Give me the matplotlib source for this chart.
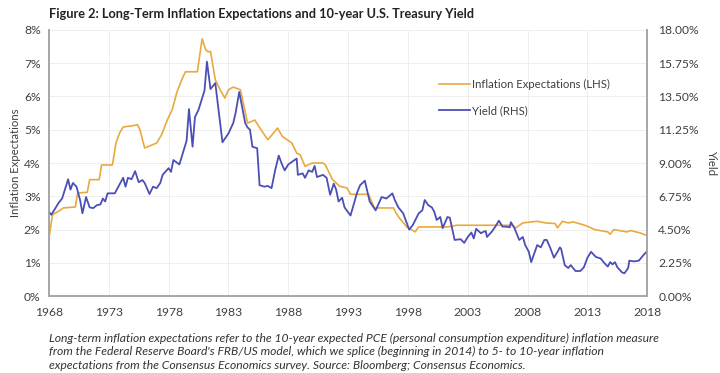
import matplotlib
matplotlib.use("Agg")
import matplotlib.pyplot as plt
import numpy as np

plt.rcParams['font.family'] = ['Lato', 'DejaVu Sans']

# Inflation expectations (LHS, %)
infl_years = [1968.0, 1968.3, 1968.8, 1969.2, 1970.2, 1970.4, 1971.2, 1971.4, 1972.2, 1972.4,
              1973.3, 1973.6, 1973.9, 1974.2, 1975.0, 1975.4, 1975.6, 1976.0, 1976.6, 1977.0,
              1977.4, 1977.9, 1978.3, 1978.7, 1979.1, 1979.4, 1980.4, 1980.8, 1981.1, 1981.3,
              1981.5, 1981.9, 1982.3, 1982.7, 1983.0, 1983.4, 1984.0, 1984.6, 1985.2, 1985.9,
              1986.3, 1987.1, 1987.5, 1987.9, 1988.3, 1988.7, 1989.0, 1989.4, 1990.0, 1990.9,
              1991.1, 1991.7, 1992.3, 1992.9, 1993.2, 1994.7, 1995.2, 1996.8, 1997.0, 1997.3,
              1997.9, 1998.6, 1998.9, 2001.3, 2002.1, 2006.7, 2007.0, 2007.6, 2008.8, 2009.5,
              2010.3, 2010.5, 2010.9, 2011.4, 2011.8, 2012.6, 2013.0, 2013.6, 2014.7, 2014.9,
              2015.2, 2016.3, 2016.6, 2017.4, 2018.0]
infl_vals = [1.75, 2.45, 2.55, 2.65, 2.68, 3.1, 3.12, 3.5, 3.5, 3.94,
             3.94, 4.6, 4.9, 5.08, 5.12, 5.15, 5.0, 4.45, 4.54, 4.6,
             4.84, 5.3, 5.6, 6.14, 6.5, 6.74, 6.74, 7.73, 7.4, 7.34,
             7.35, 6.5, 6.2, 5.95, 6.2, 6.28, 6.2, 5.2, 5.29, 4.9,
             4.7, 5.05, 4.8, 4.7, 4.6, 4.3, 4.24, 3.9, 4.0, 4.0,
             3.94, 3.5, 3.3, 3.25, 3.06, 3.06, 2.65, 2.65, 2.5, 2.34,
             2.08, 1.93, 2.08, 2.08, 2.13, 2.13, 2.05, 2.2, 2.25, 2.2,
             2.18, 2.05, 2.25, 2.2, 2.23, 2.15, 2.1, 2.0, 1.93, 1.86,
             2.0, 1.93, 1.97, 1.9, 1.82]

# 10-year Treasury yield (RHS, %)
yield_years = [1968.0, 1968.2, 1968.8, 1969.1, 1969.6, 1969.8, 1970.0, 1970.3, 1970.6, 1970.8,
               1971.1, 1971.4, 1971.7, 1972.0, 1972.3, 1972.5, 1972.7, 1972.9, 1973.5, 1973.8,
               1974.2, 1974.4, 1974.6, 1974.9, 1975.2, 1975.5, 1975.8, 1976.0, 1976.4, 1976.7,
               1977.0, 1977.3, 1977.5, 1978.0, 1978.2, 1978.4, 1978.9, 1979.2, 1979.5, 1979.7,
               1980.0, 1980.2, 1980.5, 1981.0, 1981.2, 1981.5, 1981.9, 1982.5, 1983.0, 1983.4,
               1983.6, 1983.9, 1984.4, 1984.6, 1984.8, 1985.0, 1985.4, 1985.6, 1986.0, 1986.3,
               1986.6, 1986.9, 1987.2, 1987.5, 1987.7, 1988.0, 1988.7, 1988.8, 1989.2, 1989.4,
               1989.7, 1990.0, 1990.2, 1990.4, 1990.9, 1991.2, 1991.5, 1991.8, 1992.0, 1992.2,
               1992.5, 1992.7, 1993.2, 1993.75, 1994.0, 1994.4, 1994.8, 1995.3, 1995.8, 1996.2,
               1996.7, 1996.9, 1997.2, 1997.6, 1998.1, 1998.4, 1998.9, 1999.2, 1999.4, 1999.7,
               2000.0, 2000.2, 2000.4, 2000.7, 2000.9, 2001.3, 2001.5, 2001.9, 2002.4, 2002.7,
               2003.0, 2003.3, 2003.5, 2003.7, 2004.1, 2004.3, 2004.5, 2004.6, 2005.0, 2005.3,
               2005.6, 2005.9, 2006.2, 2006.5, 2006.6, 2006.9, 2007.3, 2007.6, 2007.8, 2008.1,
               2008.3, 2008.6, 2008.8, 2009.1, 2009.4, 2009.6, 2009.9, 2010.2, 2010.5, 2010.7,
               2010.8, 2011.1, 2011.4, 2011.6, 2012.0, 2012.4, 2012.7, 2013.0, 2013.3, 2013.7,
               2014.1, 2014.4, 2014.7, 2014.9, 2015.1, 2015.3, 2015.5, 2015.9, 2016.1, 2016.4,
               2016.5, 2016.9, 2017.3, 2017.7, 2018.0]
yield_vals = [5.7, 5.5, 6.3, 6.6, 7.9, 7.2, 7.65, 7.4, 6.5, 5.6,
              6.7, 6.0, 5.95, 6.15, 6.2, 6.6, 6.4, 6.95, 6.95, 7.4,
              8.0, 7.4, 8.0, 7.9, 8.45, 7.7, 7.85, 7.65, 6.9, 7.4,
              7.3, 7.65, 8.2, 8.65, 8.4, 9.2, 8.9, 9.7, 10.5, 12.65,
              10.1, 12.1, 12.6, 13.9, 15.85, 14.0, 14.4, 10.4, 11.0, 11.7,
              12.4, 13.8, 11.7, 11.4, 11.25, 10.1, 10.0, 7.5, 7.4, 7.45,
              7.3, 8.5, 9.5, 8.85, 8.5, 8.9, 9.3, 8.2, 8.3, 8.0,
              8.5, 8.4, 8.8, 8.05, 8.2, 8.0, 6.85, 7.6, 7.2, 6.4,
              6.65, 6.0, 5.45, 7.0, 7.5, 7.8, 6.4, 5.8, 6.7, 6.6,
              6.95, 6.5, 6.0, 5.6, 4.5, 4.8, 5.6, 5.8, 6.5, 6.15,
              6.0, 5.7, 5.15, 5.35, 4.6, 5.35, 5.3, 3.8, 3.85, 3.6,
              4.0, 4.3, 3.9, 4.55, 4.25, 4.35, 4.4, 4.0, 4.35, 4.7,
              5.1, 4.7, 4.7, 4.65, 5.0, 4.6, 3.8, 4.0, 3.45, 3.0,
              2.3, 3.0, 3.45, 3.3, 3.8, 3.8, 3.25, 2.6, 3.0, 3.3,
              3.2, 2.1, 1.9, 2.1, 1.7, 1.7, 1.95, 2.6, 3.0, 2.65,
              2.55, 2.25, 2.0, 2.3, 2.15, 2.3, 1.95, 1.6, 1.55, 1.9,
              2.4, 2.35, 2.4, 2.8, 3.05]

year_ticks = list(range(1968, 2019, 5))
left_ticks = [0, 1, 2, 3, 4, 5, 6, 7, 8]
right_ticks = [0, 2.25, 4.5, 6.75, 9.0, 11.25, 13.5, 15.75, 18.0]

caption = ("Long-term inflation expectations refer to the 10-year expected PCE (personal consumption expenditure) inflation measure\n"
           "from the Federal Reserve Board's FRB/US model, which we splice (beginning in 2014) to 5- to 10-year inflation\n"
           "expectations from the Consensus Economics survey. Source: Bloomberg; Consensus Economics.")

orange = "#E9A93E"
blue = "#4B4FB5"
grey = "#A6A6A6"
txt = "#404040"

fig = plt.figure(figsize=(7.2, 3.73), dpi=100)
ax = fig.add_axes([0.068, 0.206, 0.831, 0.714])
ax2 = ax.twinx()

ax.plot(infl_years, infl_vals, color=orange, lw=1.2, label="Inflation Expectations (LHS)")
ax2.plot(yield_years, yield_vals, color=blue, lw=1.3, label="Yield (RHS)")

ax.set_xlim(1968, 2018)
ax.set_ylim(0, 8)
ax2.set_ylim(0, 18)
ax.set_xticks(year_ticks)
ax.set_yticks(left_ticks)
ax.set_yticklabels([f"{v}%" for v in left_ticks])
ax2.set_yticks(right_ticks)
ax2.set_yticklabels([f"{v:.2f}%" for v in right_ticks])

ax.grid(True, color="#EEEEEE", lw=0.7)
ax.set_axisbelow(True)
for a in (ax, ax2):
    a.tick_params(length=0, labelsize=8.7, colors=txt)
    a.spines['top'].set_visible(False)
    for s in ('left', 'right', 'bottom'):
        a.spines[s].set_color(grey)
        a.spines[s].set_linewidth(1.2)
ax.tick_params(axis='y', pad=6)
ax.tick_params(axis='x', pad=8)
ax2.tick_params(axis='y', pad=8)

ax.set_ylabel("Inflation Expectations", fontsize=8.2, color=txt, labelpad=2)
ax2.set_ylabel("Yield", fontsize=8.2, color=txt, rotation=-90, labelpad=13)

h1, l1 = ax.get_legend_handles_labels()
h2, l2 = ax2.get_legend_handles_labels()
ax2.legend(h1 + h2, l1 + l2, loc="upper left", bbox_to_anchor=(0.635, 0.855), frameon=False,
           fontsize=8.2, handlelength=2.7, handletextpad=0.2, labelspacing=1.35, labelcolor=txt)

fig.text(0.068, 0.963, "Figure 2: Long-Term Inflation Expectations and 10-year U.S. Treasury Yield",
         fontsize=9.2, fontweight="bold", color="#222222", va="center")
fig.text(0.068, 0.108, caption, fontsize=8.7, style="italic", color="#333333", va="top", linespacing=1.28)

fig.savefig("out.png", dpi=100)
